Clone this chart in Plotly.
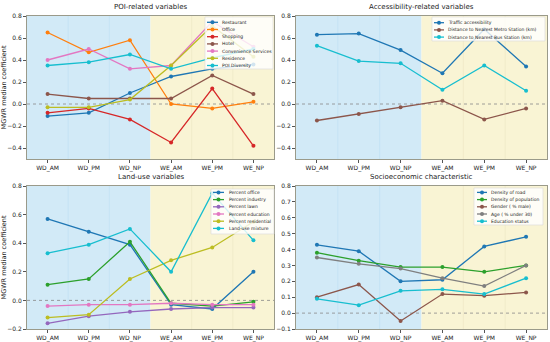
import plotly.graph_objects as go

periods = ["WD_AM", "WD_PM", "WD_NP", "WE_AM", "WE_PM", "WE_NP"]

# Panel 1: POI-related variables
poi_names = ["Restaurant", "Office", "Shopping", "Hotel", "Convenience Services", "Residence", "POI Diversity"]
restaurant = [-0.11, -0.08, 0.10, 0.25, 0.32, 0.36]
office = [0.65, 0.47, 0.58, 0.00, -0.04, 0.02]
shopping = [-0.08, -0.04, -0.14, -0.35, 0.14, -0.38]
hotel = [0.09, 0.05, 0.05, 0.05, 0.26, 0.09]
convenience = [0.40, 0.50, 0.32, 0.35, 0.75, 0.52]
residence = [-0.03, -0.03, 0.04, 0.35, 0.71, 0.43]
poi_diversity = [0.35, 0.38, 0.45, 0.32, 0.42, 0.50]

# Panel 2: Accessibility-related variables
acc_names = ["Traffic accessibility", "Distance to Nearest Metro Station (km)", "Distance to Nearest Bus Station (km)"]
traffic = [0.63, 0.64, 0.49, 0.28, 0.68, 0.34]
dist_metro = [-0.15, -0.09, -0.03, 0.03, -0.14, -0.04]
dist_bus = [0.53, 0.39, 0.37, 0.13, 0.35, 0.12]

# Panel 3: Land-use variables
lu_names = ["Percent office", "Percent industry", "Percent lawn", "Percent education", "Percent residential", "Land-use mixture"]
pct_office = [0.57, 0.48, 0.39, -0.03, -0.06, 0.20]
pct_industry = [0.11, 0.15, 0.41, -0.02, -0.04, -0.01]
pct_lawn = [-0.16, -0.11, -0.08, -0.06, -0.05, -0.05]
pct_education = [-0.04, -0.03, -0.03, -0.02, -0.03, -0.03]
pct_residential = [-0.12, -0.10, 0.15, 0.28, 0.37, 0.55]
landuse_mix = [0.33, 0.39, 0.50, 0.20, 0.75, 0.42]

# Panel 4: Socioeconomic characteristic
se_names = ["Density of road", "Density of population", "Gender ( % male)", "Age ( % under 30)", "Education status"]
road = [0.43, 0.39, 0.20, 0.21, 0.42, 0.48]
population = [0.38, 0.33, 0.29, 0.29, 0.26, 0.30]
gender = [0.10, 0.18, -0.05, 0.12, 0.11, 0.13]
age = [0.35, 0.31, 0.28, 0.22, 0.17, 0.30]
education = [0.09, 0.05, 0.14, 0.15, 0.12, 0.22]

titles = ["POI-related variables", "Accessibility-related variables", "Land-use variables", "Socioeconomic characteristic"]

C = dict(blue="#1f77b4", orange="#ff7f0e", green="#2ca02c", red="#d62728", purple="#9467bd",
         brown="#8c564b", pink="#e377c2", gray="#7f7f7f", olive="#bcbd22", cyan="#17becf")

panels = [
    (list(zip(poi_names, [restaurant, office, shopping, hotel, convenience, residence, poi_diversity],
              ["blue", "orange", "red", "brown", "pink", "olive", "cyan"])), [-0.5, 0.8], 0.2, -0.4),
    (list(zip(acc_names, [traffic, dist_metro, dist_bus], ["blue", "brown", "cyan"])), [-0.5, 0.8], 0.2, -0.4),
    (list(zip(lu_names, [pct_office, pct_industry, pct_lawn, pct_education, pct_residential, landuse_mix],
              ["blue", "green", "purple", "pink", "olive", "cyan"])), [-0.2, 0.8], 0.2, -0.2),
    (list(zip(se_names, [road, population, gender, age, education], ["blue", "green", "brown", "gray", "cyan"])),
     [-0.1, 0.8], 0.1, -0.1),
]

W, H = 550, 342
xdoms = [[27 / W, 274 / W], [296 / W, 547 / W]]
ydoms = [[1 - 159 / H, 1 - 16 / H], [1 - 329 / H, 1 - 186 / H]]
# custom legend geometry in pixels: box (x0, x1, y0, y1), first row y, row step, line x0, x1, text x
leg_geo = [
    ((205, 273, 17, 69), 22.3, 7.2, 207, 218, 221),
    ((432, 545, 17, 41), 22.7, 7.2, 434, 444, 447),
    ((211, 274, 189, 234), 192.4, 7.2, 213, 224, 228),
    ((474, 543, 188, 225), 192.4, 7.2, 477, 487, 490),
]

fig = go.Figure()
shapes = []
leg_shapes = []
annotations = []
layout = {}
FONT = "DejaVu Sans, Liberation Sans, sans-serif"

def px(x):
    return x / W

def py(y):
    return 1 - y / H

for i, (series, yr, dt, t0) in enumerate(panels):
    r, c = divmod(i, 2)
    n = i + 1
    xa = "x" if n == 1 else f"x{n}"
    ya = "y" if n == 1 else f"y{n}"
    for name, vals, col in series:
        fig.add_trace(go.Scatter(
            x=list(range(len(periods))), y=vals, name=name, mode="lines+markers",
            line=dict(color=C[col], width=1.3), marker=dict(color=C[col], size=4, symbol="circle"),
            xaxis=xa, yaxis=ya, showlegend=False))
    layout[f"xaxis{'' if n == 1 else n}"] = dict(
        domain=xdoms[c], anchor=ya, range=[-0.5, 5.5], tickmode="array", automargin=False,
        tickvals=list(range(len(periods))), ticktext=periods, showgrid=False, zeroline=False,
        showline=True, linecolor="#9a9a8a", linewidth=1, mirror=True, ticks="outside", ticklen=3,
        tickcolor="#555555", tickfont=dict(size=6, color="#222222", family=FONT))
    layout[f"yaxis{'' if n == 1 else n}"] = dict(
        domain=ydoms[r], anchor=xa, range=yr, tick0=t0, dtick=dt, showgrid=False, zeroline=False,
        showline=True, linecolor="#9a9a8a", linewidth=1, mirror=True, ticks="outside", ticklen=3,
        tickcolor="#555555", tickformat=".1f", automargin=False,
        tickfont=dict(size=6, color="#222222", family=FONT),
        title=dict(text="MGWR median coefficient" if c == 0 else "",
                   font=dict(size=6.5, family=FONT, color="#222222"), standoff=3))
    xd, yd = f"{xa} domain", f"{ya} domain"
    shapes.append(dict(type="rect", xref=xa, yref=yd, x0=-0.5, x1=2.5, y0=0, y1=1,
                       fillcolor="#d2eaf7", line=dict(width=0), layer="below"))
    shapes.append(dict(type="rect", xref=xa, yref=yd, x0=2.5, x1=5.5, y0=0, y1=1,
                       fillcolor="#f9f4d4", line=dict(width=0), layer="below"))
    for xv, gc in [(0.5, "#c2e2f4"), (1.5, "#c2e2f4"), (3.5, "#efe9c6"), (4.5, "#efe9c6")]:
        shapes.append(dict(type="line", xref=xa, yref=yd, x0=xv, x1=xv, y0=0, y1=1,
                           line=dict(color=gc, width=0.8), layer="below"))
    shapes.append(dict(type="line", xref=xd, yref=ya, x0=0, x1=1, y0=0, y1=0,
                       line=dict(color="#888888", width=0.8, dash="dot"), layer="below"))
    annotations.append(dict(text=titles[i], xref=xd, yref=yd, x=0.5, y=1, yanchor="bottom", yshift=3,
                            showarrow=False, font=dict(size=7, family=FONT, color="#222222")))
    # custom compact legend
    (bx0, bx1, by0, by1), y0r, step, lx0, lx1, tx = leg_geo[i]
    leg_shapes.append(dict(type="rect", xref="paper", yref="paper", x0=px(bx0), x1=px(bx1),
                           y0=py(by1), y1=py(by0), fillcolor="rgba(255,255,255,0.8)",
                           line=dict(color="#d8d8d8", width=0.6), layer="above"))
    for k, (name, vals, col) in enumerate(series):
        yy = y0r + k * step
        leg_shapes.append(dict(type="line", xref="paper", yref="paper", x0=px(lx0), x1=px(lx1),
                               y0=py(yy), y1=py(yy), line=dict(color=C[col], width=1.3), layer="above"))
        leg_shapes.append(dict(type="circle", xref="paper", yref="paper", xsizemode="pixel",
                               ysizemode="pixel", xanchor=px((lx0 + lx1) / 2), yanchor=py(yy),
                               x0=-2, x1=2, y0=-2, y1=2, fillcolor=C[col],
                               line=dict(color=C[col], width=0), layer="above"))
        annotations.append(dict(text=name, xref="paper", yref="paper", x=px(tx), y=py(yy),
                                xanchor="left", yanchor="middle", showarrow=False, borderpad=0,
                                font=dict(size=4.5, family=FONT, color="#222222")))

fig.update_layout(width=W, height=H, margin=dict(l=0, r=0, t=0, b=0), plot_bgcolor="white",
                  paper_bgcolor="white", shapes=shapes + leg_shapes, annotations=annotations,
                  showlegend=False, **layout)
fig.write_html("out.html", config={"displayModeBar": False},
               post_script="document.body.style.margin='0';")
